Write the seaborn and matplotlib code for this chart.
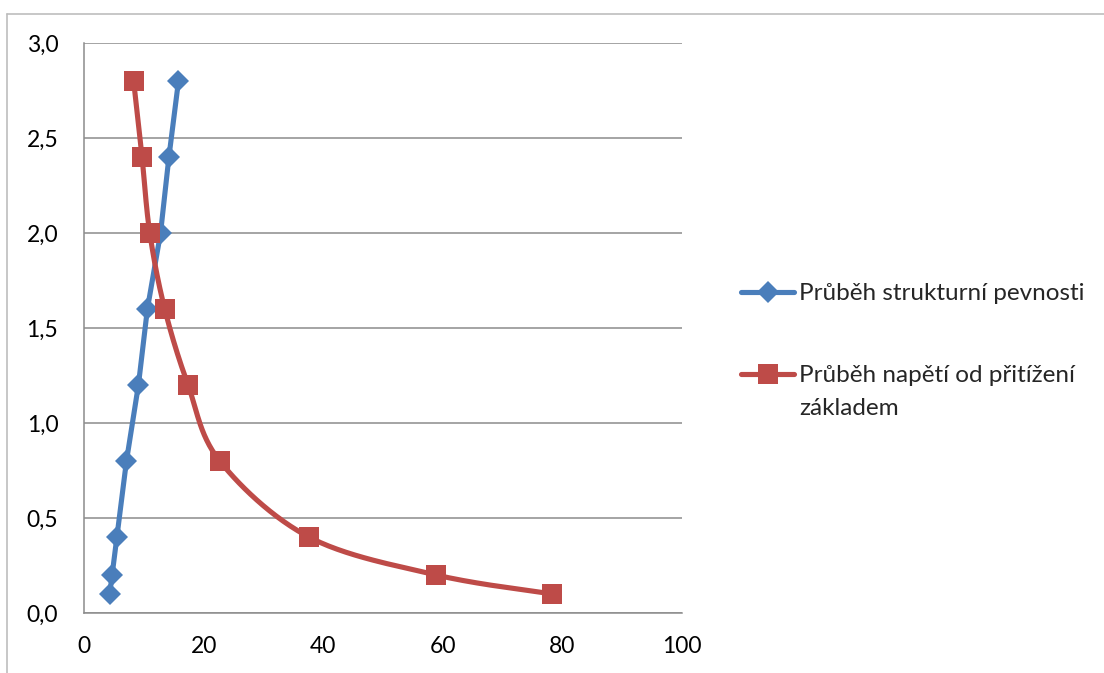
import numpy as np
import pandas as pd
import matplotlib
matplotlib.use("Agg")
import matplotlib.pyplot as plt
from matplotlib.lines import Line2D
import seaborn as sns

# Depth levels (y axis) and the two stress profiles (x axis)
depth = [0.1, 0.2, 0.4, 0.8, 1.2, 1.6, 2.0, 2.4, 2.8]
strukturni_pevnost = [4.3, 4.7, 5.5, 7.1, 9.1, 10.6, 12.8, 14.2, 15.8]
napeti_pritizeni = [78.3, 58.9, 37.6, 22.7, 17.4, 13.5, 11.0, 9.7, 8.3]

label_blue = "Průběh strukturní pevnosti"
label_red = "Průběh napětí od přitížení"
label_red_cont = "základem"

x_ticks = [0, 20, 40, 60, 80, 100]
y_ticks = [0.0, 0.5, 1.0, 1.5, 2.0, 2.5, 3.0]

BLUE = "#4A7EBB"
RED = "#BE4B48"
GRID = "#8C8C8C"

sns.set_style("white")
plt.rcParams["font.family"] = ["Lato", "DejaVu Sans"]

df = pd.DataFrame({
    "depth": depth * 2,
    "value": strukturni_pevnost + napeti_pritizeni,
    "series": [label_blue] * len(depth) + [label_red] * len(depth),
})

fig = plt.figure(figsize=(11.04, 6.73), dpi=100)
W, H = 1104, 673
ax = fig.add_axes([84 / W, 1 - 613 / H, (682 - 84) / W, (613 - 43) / H])
ax.set_xlim(0, 100)
ax.set_ylim(0, 3.0)

# outer chart frame
fig.add_artist(Line2D([7 / W, 7 / W], [0, 1 - 14 / H], color="#BDBDBD", lw=1.2))
fig.add_artist(Line2D([7 / W, 1], [1 - 14 / H, 1 - 14 / H], color="#BDBDBD", lw=1.2))

# horizontal gridlines
ax.set_yticks(y_ticks)
ax.set_xticks(x_ticks)
ax.yaxis.grid(True, color=GRID, lw=1.1)
ax.xaxis.grid(False)
ax.set_axisbelow(True)

blue_df = df[df["series"] == label_blue]
red_df = df[df["series"] == label_red]

# structural strength: straight segments with diamonds
sns.lineplot(data=blue_df, x="value", y="depth", sort=False, color=BLUE,
             lw=3.7, marker="D", markersize=11, markeredgewidth=0,
             ax=ax, legend=False, zorder=3)


def smooth_path(xs, ys, n=30):
    """Catmull-Rom curve through the points, computed in display space."""
    pts = ax.transData.transform(np.column_stack([xs, ys]))
    p = np.vstack([pts[0], pts, pts[-1]])
    out = []
    for i in range(1, len(p) - 2):
        p0, p1, p2, p3 = p[i - 1], p[i], p[i + 1], p[i + 2]
        c1 = p1 + (p2 - p0) / 6.0
        c2 = p2 - (p3 - p1) / 6.0
        t = np.linspace(0, 1, n)[:, None]
        seg = ((1 - t) ** 3) * p1 + 3 * ((1 - t) ** 2) * t * c1 + 3 * (1 - t) * t ** 2 * c2 + t ** 3 * p2
        out.append(seg if i == 1 else seg[1:])
    out = np.vstack(out)
    return ax.transData.inverted().transform(out)


curve = smooth_path(red_df["value"].to_numpy(), red_df["depth"].to_numpy())
ax.plot(curve[:, 0], curve[:, 1], color=RED, lw=3.7, solid_capstyle="round", zorder=3)
sns.scatterplot(data=red_df, x="value", y="depth", marker="s", s=200, color=RED,
                linewidth=0, ax=ax, legend=False, zorder=4)

# axes styling
for side in ["top", "right"]:
    ax.spines[side].set_visible(False)
for side in ["left", "bottom"]:
    ax.spines[side].set_color(GRID)
    ax.spines[side].set_linewidth(1.1)
ax.tick_params(axis="both", direction="out", length=6.5, width=1.1, color=GRID,
               labelsize=16.5, labelcolor="#000000")
ax.tick_params(axis="y", pad=12)
ax.tick_params(axis="x", pad=10)
ax.set_yticklabels([f"{v:.1f}".replace(".", ",") for v in y_ticks])
ax.set_xticklabels([str(v) for v in x_ticks])
ax.set_xlabel("")
ax.set_ylabel("")

handles = [
    Line2D([], [], color=BLUE, lw=3.7, marker="D", markersize=11, markeredgewidth=0),
    Line2D([], [], color=RED, lw=3.7, marker="s", markersize=14, markeredgewidth=0),
]
leg_fs = 17.5
leg = fig.legend(handles, [label_blue, label_red], loc="upper left",
                 bbox_to_anchor=(741 / W, 1 - 283 / H), frameon=False,
                 fontsize=leg_fs, handlelength=2.2, handletextpad=0.2,
                 labelspacing=2.52, borderaxespad=0, borderpad=0)

# wrapped second line of the red legend entry
fig.canvas.draw()
tb = leg.get_texts()[1].get_window_extent()
fig.text(tb.x0 / W, (tb.y0 - 33) / H, label_red_cont, fontsize=leg_fs,
         ha="left", va="bottom")

fig.savefig("out.png", dpi=100)
